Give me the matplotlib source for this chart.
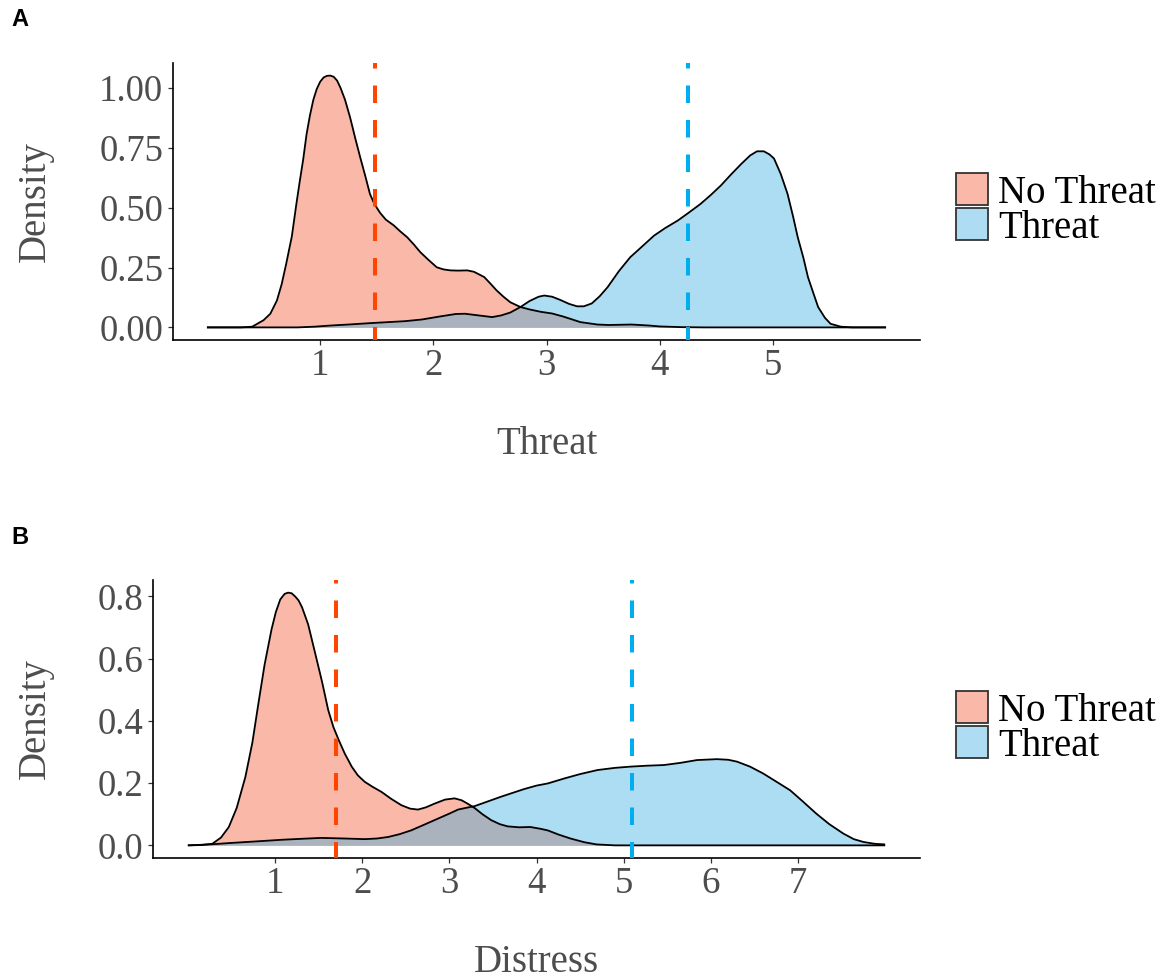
import matplotlib
matplotlib.use("Agg")
import matplotlib.pyplot as plt
from matplotlib.patches import Rectangle

# ---- Panel A: Threat ratings -------------------------------------------
threat_x_no = [0.0, 0.3, 0.4, 0.5, 0.56, 0.618, 0.66, 0.7, 0.75, 0.79, 0.82, 0.85, 0.88,
               0.91, 0.94, 0.97, 1.0, 1.03, 1.06, 1.09, 1.12, 1.15, 1.18, 1.22, 1.265,
               1.31, 1.354, 1.40, 1.44, 1.47, 1.50, 1.53, 1.58, 1.65, 1.71, 1.77, 1.83,
               1.885, 1.95, 2.03, 2.09, 2.15, 2.22, 2.30, 2.36, 2.45, 2.51, 2.56, 2.62,
               2.68, 2.77, 2.85, 2.95, 3.05, 3.15, 3.3, 3.45, 3.55, 3.75, 3.9, 4.0, 4.2,
               4.4, 6.0]
threat_y_no = [0.0, 0.0, 0.003, 0.03, 0.057, 0.112, 0.18, 0.265, 0.38, 0.515, 0.61, 0.70, 0.806,
               0.885, 0.95, 0.995, 1.025, 1.043, 1.05, 1.051, 1.046, 1.03, 1.0, 0.95, 0.876,
               0.79, 0.71, 0.63, 0.557, 0.525, 0.50, 0.478, 0.45, 0.426, 0.40, 0.376, 0.345,
               0.314, 0.285, 0.251, 0.242, 0.238, 0.237, 0.238, 0.232, 0.21, 0.18, 0.154, 0.128,
               0.105, 0.085, 0.075, 0.065, 0.058, 0.045, 0.022, 0.012, 0.01, 0.012, 0.008, 0.004,
               0.001, 0.0, 0.0]

threat_x_yes = [0.0, 0.8, 0.95, 1.1, 1.25, 1.45, 1.75, 1.9, 2.05, 2.2, 2.28, 2.4, 2.52,
                2.6, 2.68, 2.77, 2.85, 2.93, 2.98, 3.05, 3.12, 3.2, 3.27, 3.33, 3.4,
                3.47, 3.54, 3.64, 3.74, 3.85, 3.95, 4.05, 4.16, 4.26, 4.36, 4.45, 4.54,
                4.63, 4.72, 4.80, 4.86, 4.92, 4.97, 5.01, 5.07, 5.13, 5.18, 5.22, 5.27,
                5.31, 5.36, 5.40, 5.46, 5.51, 5.6, 5.7, 6.0]
threat_y_yes = [0.0, 0.0, 0.003, 0.008, 0.012, 0.018, 0.026, 0.033, 0.045, 0.056, 0.057, 0.05, 0.043,
                0.05, 0.062, 0.085, 0.11, 0.128, 0.133, 0.128, 0.115, 0.098, 0.088, 0.088, 0.1,
                0.13, 0.168, 0.235, 0.293, 0.34, 0.383, 0.415, 0.446, 0.48, 0.515, 0.552, 0.592,
                0.638, 0.682, 0.718, 0.735, 0.735, 0.722, 0.705, 0.64, 0.557, 0.46, 0.376, 0.29,
                0.21, 0.14, 0.085, 0.04, 0.015, 0.003, 0.0, 0.0]

threat_means = [1.485, 4.25]

# ---- Panel B: Distress ratings -----------------------------------------
distress_x_no = [0.0, 0.15, 0.28, 0.38, 0.47, 0.56, 0.66, 0.74, 0.81, 0.88, 0.96, 1.01, 1.06,
                 1.11, 1.15, 1.19, 1.23, 1.27, 1.31, 1.38, 1.46, 1.54, 1.61, 1.67, 1.73,
                 1.80, 1.88, 1.95, 2.03, 2.12, 2.22, 2.33, 2.45, 2.55, 2.64, 2.73, 2.83,
                 2.95, 3.06, 3.14, 3.21, 3.29, 3.38, 3.48, 3.58, 3.67, 3.80, 3.93, 4.05,
                 4.13, 4.25, 4.39, 4.55, 4.69, 4.9, 8.0]
distress_y_no = [0.0, 0.001, 0.005, 0.025, 0.059, 0.12, 0.22, 0.33, 0.457, 0.58, 0.694, 0.75, 0.79,
                 0.808, 0.812, 0.81, 0.80, 0.787, 0.765, 0.71, 0.618, 0.525, 0.435, 0.38, 0.339,
                 0.295, 0.253, 0.225, 0.204, 0.188, 0.172, 0.15, 0.129, 0.118, 0.115, 0.122, 0.134,
                 0.147, 0.151, 0.145, 0.134, 0.12, 0.1, 0.081, 0.068, 0.061, 0.058, 0.059, 0.053,
                 0.048, 0.035, 0.022, 0.01, 0.003, 0.0, 0.0]

distress_x_yes = [0.0, 0.25, 0.51, 0.8, 1.08, 1.3, 1.53, 1.8, 2.03, 2.17, 2.30, 2.43, 2.56,
                  2.7, 2.87, 3.0, 3.10, 3.20, 3.29, 3.44, 3.59, 3.73, 3.86, 4.0, 4.13, 4.32,
                  4.5, 4.70, 4.9, 5.08, 5.27, 5.46, 5.65, 5.84, 6.07, 6.2, 6.30, 6.45, 6.60,
                  6.75, 6.91, 7.06, 7.21, 7.36, 7.52, 7.64, 7.75, 7.88, 8.0]
distress_y_yes = [0.0, 0.003, 0.008, 0.013, 0.018, 0.021, 0.024, 0.022, 0.02, 0.022, 0.027, 0.036, 0.048,
                  0.065, 0.086, 0.102, 0.115, 0.121, 0.126, 0.141, 0.156, 0.169, 0.181, 0.192, 0.199, 0.215,
                  0.229, 0.242, 0.249, 0.253, 0.256, 0.258, 0.265, 0.274, 0.277, 0.275, 0.269, 0.253, 0.231,
                  0.205, 0.177, 0.14, 0.102, 0.068, 0.038, 0.02, 0.011, 0.005, 0.003]

distress_means = [1.695, 5.10]

groups = ["No Threat", "Threat"]
fill_colors = ["#F04E26", "#34AAE1"]
fill_alpha = 0.4
mean_colors = ["#FF4500", "#00AEEF"]

# ---- Figure ------------------------------------------------------------
W, H = 1172, 980
DPI = 100
PT = 72 / DPI  # points per pixel
plt.rcParams["font.family"] = ["Liberation Serif", "DejaVu Serif"]
plt.rcParams["lines.scale_dashes"] = False
fig = plt.figure(figsize=(W / DPI, H / DPI), dpi=DPI)


def px_rect(left, top, right, bottom):
    return [left / W, 1 - bottom / H, (right - left) / W, (bottom - top) / H]


def blend(hex_color, alpha):
    r, g, b = matplotlib.colors.to_rgb(hex_color)
    return (alpha * r + 1 - alpha, alpha * g + 1 - alpha, alpha * b + 1 - alpha)


def density_panel(ax, curves, means, xticks, yticks, yfmt, xlim, ylim, xlabel,
                  xlabel_y, ylabel_x, dash_offset):
    for (xs, ys), fc in zip(curves, fill_colors):
        ax.fill_between(xs, 0, ys, color=fc, alpha=fill_alpha, linewidth=0)
        ax.plot(xs, ys, color="black", lw=1.3, solid_capstyle="butt",
                solid_joinstyle="round")
    for m, mc in zip(means, mean_colors):
        ax.axvline(m, color=mc, lw=2.9,
                   linestyle=(dash_offset * PT, (17.5 * PT, 17 * PT)),
                   dash_capstyle="butt", zorder=5)
    ax.set_xlim(*xlim)
    ax.set_ylim(*ylim)
    ax.set_xticks(xticks)
    ax.set_xticklabels([str(t) for t in xticks])
    ax.set_yticks(yticks)
    ax.set_yticklabels([yfmt.format(t) for t in yticks])
    for s in ["top", "right"]:
        ax.spines[s].set_visible(False)
    for s in ["left", "bottom"]:
        ax.spines[s].set_linewidth(1.2)
        ax.spines[s].set_color("black")
    ax.tick_params(direction="out", length=3.6, width=0.9, color="#333333",
                   labelcolor="#4D4D4D", labelsize=26.5)
    ax.tick_params(axis="y", pad=3.5)
    ax.tick_params(axis="x", pad=2.5)
    ax.set_xlabel(xlabel, fontsize=28, color="#4D4D4D", va="center")
    ax.xaxis.set_label_coords(0.5, xlabel_y)
    ax.set_ylabel("Density", fontsize=28, color="#4D4D4D", va="center")
    ax.yaxis.set_label_coords(ylabel_x, 0.5)


def legend_keys(top):
    for i, (name, fc) in enumerate(zip(groups, fill_colors)):
        y0 = top + i * 35
        fig.patches.append(Rectangle((956 / W, 1 - (y0 + 32) / H), 32 / W, 32 / H,
                                     transform=fig.transFigure,
                                     facecolor=blend(fc, fill_alpha),
                                     edgecolor="#333333", linewidth=1.3))
        fig.text(998 / W, 1 - (y0 + 16) / H, name, fontsize=28, color="black",
                 ha="left", va="center_baseline")


axA = fig.add_axes(px_rect(173, 63, 920, 340))
density_panel(axA, [(threat_x_no, threat_y_no), (threat_x_yes, threat_y_yes)],
              threat_means, [1, 2, 3, 4, 5], [0, 0.25, 0.5, 0.75, 1.0], "{:.2f}",
              (-0.3, 6.3), (-0.0526, 1.1036), "Threat",
              -(444 - 340) / 277, (35 - 173) / 747, 4.5)

axB = fig.add_axes(px_rect(153, 580, 920, 858))
density_panel(axB, [(distress_x_no, distress_y_no), (distress_x_yes, distress_y_yes)],
              distress_means, [1, 2, 3, 4, 5, 6, 7], [0, 0.2, 0.4, 0.6, 0.8], "{:.1f}",
              (-0.4, 8.4), (-0.0406, 0.8526), "Distress",
              -(962 - 858) / 278, (35 - 153) / 767, 1.5)

legend_keys(173)
legend_keys(691)

for label, y in [("A", 20), ("B", 537)]:
    fig.text(20 / W, 1 - y / H, label, fontsize=17, fontweight="bold",
             family=["Liberation Sans", "DejaVu Sans"], ha="center", va="center")

fig.savefig("out.png", dpi=DPI)
